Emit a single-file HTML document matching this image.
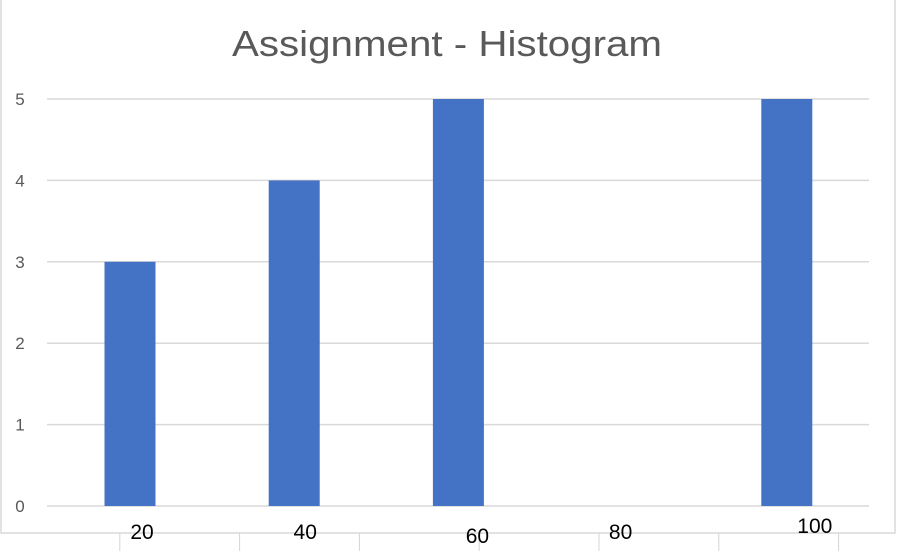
<!DOCTYPE html>
<html><head><meta charset="utf-8"><style>
html,body{margin:0;padding:0;background:#fff;}
body{width:898px;height:551px;overflow:hidden;}
svg{display:block;font-family:"Liberation Sans",sans-serif;}
</style></head><body>
<svg id="chart" width="898" height="551" viewBox="0 0 898 551">
<g id="cells"></g>
<rect x="1" y="-2" width="894" height="535" fill="#fff" stroke="#d9d9d9" stroke-width="1.5"/>
<text x="447" y="56" text-anchor="middle" font-size="36" fill="#595959" textLength="430" lengthAdjust="spacingAndGlyphs">Assignment - Histogram</text>
<g id="grid"></g>
<g id="bars"></g>
<g id="xlabels"></g>
<g id="ylabels"></g>
</svg>
<script>
const categories = ["20","40","60","80","100"];
const counts = [3,4,5,0,5];
const yTicks = [0,1,2,3,4,5];
const labelDx = [12,11,19,-2,28];
const labelDy = [0,0,4,0,-6];

const NS="http://www.w3.org/2000/svg";
const x0=47,x1=869,yBase=506,yTop=99,yMax=5;
const bw=51;
function yScale(v){return yBase-(v/yMax)*(yBase-yTop);}
function xCenter(i){return 130+i*164.2;}
function mk(t,a,p){const e=document.createElementNS(NS,t);for(const k in a)e.setAttribute(k,a[k]);p.appendChild(e);return e;}

const cells=document.getElementById('cells');
for(let i=1;i<=7;i++){
  const l=mk('line',{x1:i*119.8,x2:i*119.8,y1:533,y2:551,stroke:'#d4d4d4','stroke-width':1},cells);
  
  
}
const grid=document.getElementById('grid');
const yl=document.getElementById('ylabels');
yTicks.forEach(v=>{
  const y=yScale(v);
  const l=mk('line',{x1:x0,x2:x1,y1:y,y2:y,stroke:'#d9d9d9','stroke-width':1.5},grid);
  
  
  const t=mk('text',{x:20,y:y+6,'text-anchor':'middle','font-size':17,fill:'#595959'},yl);
  t.textContent=v;
  
  
});
const bars=document.getElementById('bars');
const xl=document.getElementById('xlabels');
categories.forEach((c,i)=>{
  const cx=xCenter(i);
  if(counts[i]>0){
    const r=mk('rect',{x:cx-bw/2,y:yScale(counts[i]),width:bw,height:yBase-yScale(counts[i]),fill:'#4472c4'},bars);
    
    
  }
  const t=mk('text',{x:cx+labelDx[i],y:539+labelDy[i],'text-anchor':'middle','font-size':21,fill:'#000'},xl);
  t.textContent=c;
  
  
});
</script>
</body></html>
